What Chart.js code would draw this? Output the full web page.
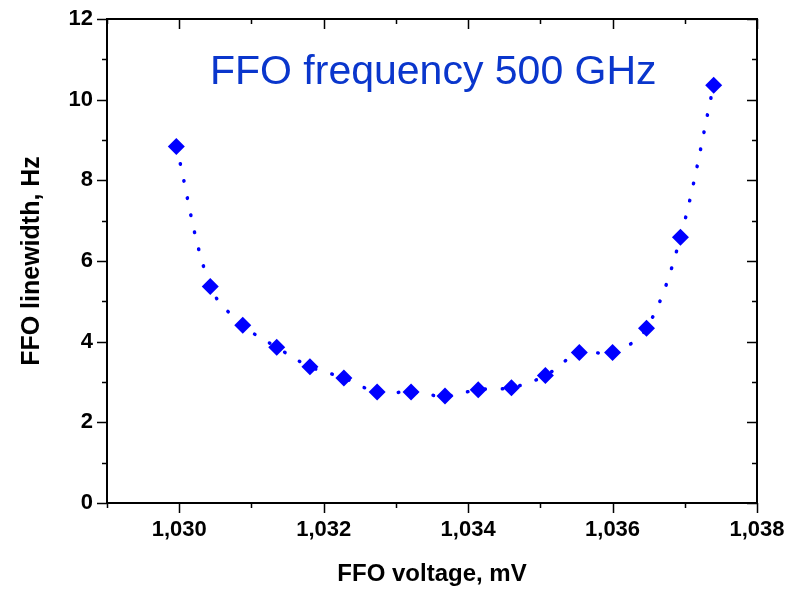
<!DOCTYPE html>
<html>
<head>
<meta charset="utf-8">
<script src="https://cdn.jsdelivr.net/npm/chart.js@4/dist/chart.umd.min.js"></script>
<style>
  html, body { margin: 0; padding: 0; background: #fff; }
  #wrap { width: 798px; height: 589px; }
</style>
</head>
<body>
<div id="wrap"><canvas id="lwChart"></canvas></div>
<script>
// FFO linewidth vs bias voltage

const voltage = [1029.96, 1030.43, 1030.88, 1031.35, 1031.81, 1032.28, 1032.74, 1033.21,
                 1033.68, 1034.14, 1034.60, 1035.07, 1035.54, 1036.00, 1036.47, 1036.94, 1037.40];
const linewidth = [8.84, 5.37, 4.41, 3.86, 3.38, 3.10, 2.75, 2.75,
                   2.65, 2.81, 2.86, 3.16, 3.73, 3.73, 4.33, 6.59, 10.36];

const xTicks = [1029, 1030, 1031, 1032, 1033, 1034, 1035, 1036, 1037, 1038];
const yTicks = [0, 1, 2, 3, 4, 5, 6, 7, 8, 9, 10, 11, 12];

const annotation = 'FFO frequency 500 GHz';
const xTitle = 'FFO voltage, mV';
const yTitle = 'FFO linewidth, Hz';

const blue = '#0000ff';
const fontFamily = '"Liberation Sans", Arial, sans-serif';

// frame, ticks (major + minor) and axis labels
const framePlugin = {
  id: 'frame',
  afterDraw(chart) {
    const ctx = chart.ctx;
    const a = chart.chartArea;
    const xs = chart.scales.x;
    const ys = chart.scales.y;

    ctx.save();
    ctx.strokeStyle = '#000';
    ctx.lineWidth = 2;
    ctx.strokeRect(a.left, a.top, a.right - a.left, a.bottom - a.top);

    ctx.lineWidth = 1.5;
    ctx.beginPath();
    xTicks.forEach(v => {
      const px = Math.round(xs.getPixelForValue(v)) + 0.5;
      const len = (v % 2 === 0) ? 10 : 5;
      // bottom: outward, top: inward
      ctx.moveTo(px, a.bottom);
      ctx.lineTo(px, a.bottom + len);
      ctx.moveTo(px, a.top);
      ctx.lineTo(px, a.top + len);
    });
    yTicks.forEach(v => {
      const py = Math.round(ys.getPixelForValue(v)) + 0.5;
      const len = (v % 2 === 0) ? 10 : 5;
      // left: outward, right: inward
      ctx.moveTo(a.left, py);
      ctx.lineTo(a.left - len, py);
      ctx.moveTo(a.right, py);
      ctx.lineTo(a.right - len, py);
    });
    ctx.stroke();

    ctx.fillStyle = '#000';
    ctx.font = 'bold 22px ' + fontFamily;
    ctx.textAlign = 'center';
    ctx.textBaseline = 'middle';
    xTicks.filter(v => v % 2 === 0 && v > 1029).forEach(v => {
      ctx.fillText(v.toLocaleString('en-US'), xs.getPixelForValue(v), a.bottom + 27);
    });
    ctx.textAlign = 'right';
    yTicks.filter(v => v % 2 === 0).forEach(v => {
      ctx.fillText(String(v), a.left - 14, ys.getPixelForValue(v));
    });

    ctx.font = 'bold 24px ' + fontFamily;
    ctx.textAlign = 'center';
    ctx.textBaseline = 'alphabetic';
    ctx.fillText(xTitle, (a.left + a.right) / 2, a.bottom + 78);

    ctx.save();
    ctx.translate(39, (a.top + a.bottom) / 2);
    ctx.rotate(-Math.PI / 2);
    ctx.font = 'bold 25px ' + fontFamily;
    ctx.fillText(yTitle, 0, 0);
    ctx.restore();

    ctx.fillStyle = '#0a36cc';
    ctx.font = '41px ' + fontFamily;
    ctx.textAlign = 'left';
    ctx.fillText(annotation, a.left + 103, a.top + 65);
    ctx.restore();
  }
};

const points = voltage.map((v, i) => ({ x: v, y: linewidth[i] }));

new Chart(document.getElementById('lwChart'), {
  type: 'line',
  data: {
    datasets: [{
      label: 'linewidth',
      data: points,
      borderColor: blue,
      backgroundColor: blue,
      borderWidth: 3.5,
      borderDash: [0.5, 17],
      borderCapStyle: 'round',
      tension: 0.35,
      pointStyle: 'rectRot',
      pointRadius: 8.5,
      pointBorderWidth: 0,
      pointBackgroundColor: blue,
    }]
  },
  options: {
    responsive: true,
    maintainAspectRatio: false,
    animation: false,
    layout: { padding: { top: 19, right: 41, left: 0, bottom: 0 } },
    plugins: {
      legend: { display: false },
      tooltip: { enabled: false },
    },
    scales: {
      x: {
        type: 'linear',
        min: 1029,
        max: 1038,
        grid: { display: false, drawTicks: false },
        border: { display: false },
        ticks: { display: false },
        afterFit(scale) { scale.height = 86; },
      },
      y: {
        min: 0,
        max: 12,
        grid: { display: false, drawTicks: false },
        border: { display: false },
        ticks: { display: false },
        afterFit(scale) { scale.width = 107; },
      }
    }
  },
  plugins: [framePlugin]
});
</script>
</body>
</html>
